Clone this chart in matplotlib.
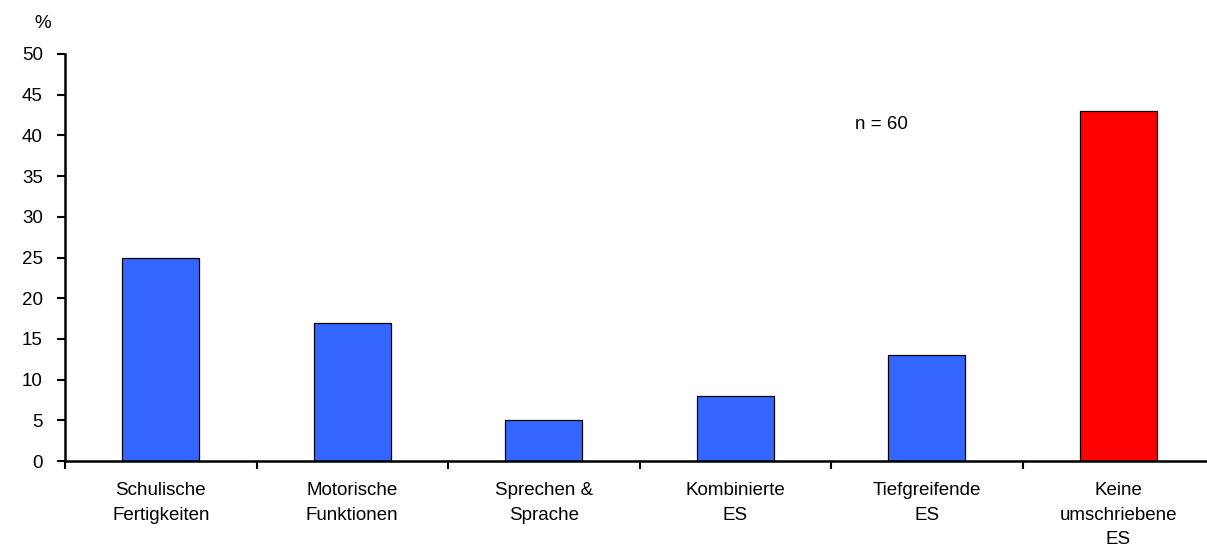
import matplotlib
matplotlib.use("Agg")
import matplotlib.pyplot as plt
import numpy as np

categories = ["Schulische\nFertigkeiten", "Motorische\nFunktionen", "Sprechen &\nSprache",
              "Kombinierte\nES", "Tiefgreifende\nES", "Keine\numschriebene\nES"]
values = [25, 17, 5, 8, 13, 43]
colors = ["#3366FF", "#3366FF", "#3366FF", "#3366FF", "#3366FF", "#FF0000"]
yticks = [0, 5, 10, 15, 20, 25, 30, 35, 40, 45, 50]

plt.rcParams['font.family'] = ['Liberation Sans', 'DejaVu Sans']
FS = 13.5

fig = plt.figure(figsize=(12.07, 5.46), dpi=100)
ax = fig.add_axes([65/1207, 85/546, 1149/1207, 407/546])

x = np.arange(len(values))
ax.bar(x, values, width=0.4, color=colors, edgecolor='black', linewidth=0.9, zorder=2)

ax.set_xlim(-0.5, len(values) - 0.5)
ax.set_ylim(0, 50)
ax.set_yticks(yticks)
ax.set_yticklabels([str(v) for v in yticks], fontsize=FS)

ax.set_xticks(np.arange(len(values) + 1) - 0.5)
ax.set_xticklabels([])
ax.set_xticks(x, minor=True)
ax.set_xticklabels(categories, minor=True, fontsize=FS, linespacing=1.6)
ax.tick_params(axis='x', which='minor', length=0, pad=15)
ax.tick_params(axis='x', which='major', direction='out', length=6, width=1.5)
ax.tick_params(axis='y', direction='out', length=6, width=1.5, pad=10)

for s in ['top', 'right']:
    ax.spines[s].set_visible(False)
for s in ['left', 'bottom']:
    ax.spines[s].set_linewidth(1.8)
    ax.spines[s].set_zorder(3)

ax.text(3.625, 41.3, "n = 60", fontsize=FS, ha='left', va='center')
fig.text(43/1207, 1 - 23/546, "%", fontsize=FS, ha='center', va='center')

fig.savefig("out.png", dpi=100)
